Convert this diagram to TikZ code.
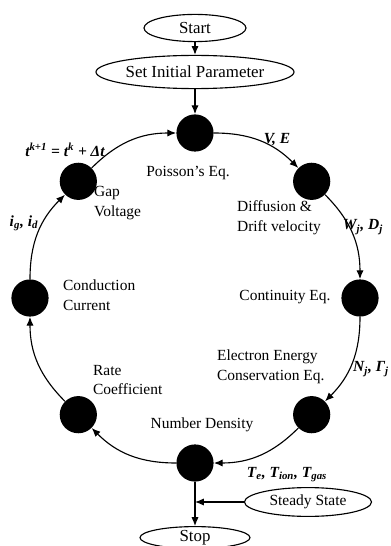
\documentclass[tikz,border=0pt]{standalone}
\usepackage{fontspec}
\setmainfont{Liberation Serif}
\usetikzlibrary{arrows.meta,shapes.geometric}

\begin{document}
\begin{tikzpicture}[
  >=Latex,
  every node/.style={font=\fontsize{11}{14}\selectfont,align=left,inner sep=1pt},
  flow/.style={-{Latex[length=2.2mm,width=1.8mm]},line width=0.8pt},
  solver/.style={circle,fill=black,minimum size=0.93cm,inner sep=0pt},
  term/.style={ellipse,draw=black,line width=0.8pt,inner sep=0pt,
               font=\fontsize{12}{14}\selectfont},
  var/.style={font=\fontsize{11}{13}\selectfont\bfseries\itshape}
]
  \useasboundingbox (-4.875,-6.2) rectangle (4.875,7.45);

  \node[term,minimum width=2.55cm,minimum height=0.68cm] (start) at (0,6.75) {Start};
  \node[term,minimum width=4.95cm,minimum height=0.83cm] (init) at (0,5.65)
    {Set Initial Parameter};

  \node[solver] (pois) at (90:4.125) {};
  \node[solver] (diff) at (45:4.125) {};
  \node[solver] (cont) at (0:4.125) {};
  \node[solver] (ener) at (-45:4.125) {};
  \node[solver] (dens) at (-90:4.125) {};
  \node[solver] (rate) at (-135:4.125) {};
  \node[solver] (cond) at (180:4.125) {};
  \node[solver] (gap) at (135:4.125) {};

  \node[term,minimum width=3.175cm,minimum height=0.72cm,
        font=\fontsize{11}{13}\selectfont] (steady) at (2.825,-5.1) {Steady State};
  \node[term,minimum width=2.75cm,minimum height=0.55cm] (stop) at (0,-5.99) {Stop};
  \coordinate (join) at (dens |- steady);

  % labels next to the solver steps
  \node (poislbl) at (-0.175,3.125) {Poisson's Eq.};
  \node[anchor=west] (difflbl) at (1.01,2.0) {Diffusion \&\\Drift velocity};
  \node (contlbl) at (2.25,0.025) {Continuity Eq.};
  \node[anchor=west] (enerlbl) at (0.51,-1.725) {Electron Energy\\Conservation Eq.};
  \node (denslbl) at (0.175,-3.175) {Number Density};
  \node[anchor=west] (ratelbl) at (-2.59,-2.05) {Rate\\Coefficient};
  \node[anchor=west] (condlbl) at (-3.34,0.075) {Conduction\\Current};
  \node[anchor=west] (gaplbl) at (-2.565,2.375) {Gap\\Voltage};

  % exchanged quantities
  \node[var] (velbl) at (2.05,3.95) {V, E};
  \node[var] (wdlbl) at (4.2,1.775) {W\textsubscript{j}, D\textsubscript{j}};
  \node[var] (nglbl) at (4.4,-1.775) {N\textsubscript{j}, Γ\textsubscript{j}};
  \node[var] (templbl) at (2.3,-4.42)
    {T\textsubscript{e}, T\textsubscript{ion}, T\textsubscript{gas}};
  \node[var] (curlbl) at (-4.275,1.875) {i\textsubscript{g}, i\textsubscript{d}};
  \node[var] (steplbl) at (-3.25,3.7)
    {t\textsuperscript{k+1} = t\textsuperscript{k} + Δt};

  \draw[flow] (start) -- (init);
  \draw[flow] (init) -- (pois);
  \draw[flow] (pois) to[bend left=22.5] (diff);
  \draw[flow] (diff) to[bend left=22.5] (cont);
  \draw[flow] (cont) to[bend left=22.5] (ener);
  \draw[flow] (ener) to[bend left=22.5] (dens);
  \draw[flow] (dens) to[bend left=22.5] (rate);
  \draw[flow] (rate) to[bend left=22.5] (cond);
  \draw[flow] (cond) to[bend left=22.5] (gap);
  \draw[flow] (gap) to[bend left=22.5] (pois);
  \draw[flow] (dens) -- (stop);
  \draw[flow] (steady) -- (join);
\end{tikzpicture}
\end{document}
